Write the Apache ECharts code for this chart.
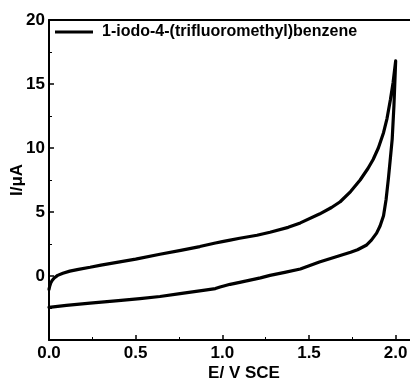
<!DOCTYPE html>
<html>
<head>
<meta charset="utf-8">
<script src="https://cdn.jsdelivr.net/npm/echarts@6/dist/echarts.min.js"></script>
<style>html,body{margin:0;padding:0;background:#fff;}#c{width:410px;height:381px;}</style>
</head>
<body>
<div id="c"></div>
<script>
var seriesName = '1-iodo-4-(trifluoromethyl)benzene';
// forward (anodic) scan, E in V
var forwardE = [0.000, 0.004, 0.010, 0.018, 0.030, 0.050, 0.080, 0.120, 0.170, 0.237, 0.300, 0.400, 0.500, 0.640, 0.760, 0.870, 0.960, 1.000, 1.045, 1.100, 1.200, 1.275, 1.380, 1.450, 1.560, 1.630, 1.680, 1.740, 1.795, 1.840, 1.870, 1.900, 1.930, 1.950, 1.970, 1.985, 2.000];
var forwardI = [-1.05, -0.80, -0.55, -0.35, -0.15, 0.05, 0.22, 0.38, 0.52, 0.68, 0.85, 1.08, 1.32, 1.70, 2.00, 2.30, 2.58, 2.69, 2.80, 2.95, 3.18, 3.42, 3.80, 4.15, 4.84, 5.35, 5.80, 6.60, 7.50, 8.40, 9.10, 10.00, 11.20, 12.30, 13.80, 15.10, 16.80];
// reverse (cathodic) scan
var reverseE = [1.990, 1.980, 1.968, 1.958, 1.945, 1.930, 1.910, 1.890, 1.860, 1.830, 1.780, 1.740, 1.680, 1.620, 1.560, 1.450, 1.360, 1.275, 1.220, 1.160, 1.100, 1.045, 0.987, 0.960, 0.900, 0.756, 0.640, 0.525, 0.400, 0.237, 0.100, 0.000];
var reverseI = [13.30, 10.70, 9.00, 7.60, 6.00, 4.70, 3.90, 3.35, 2.80, 2.40, 2.05, 1.85, 1.60, 1.35, 1.09, 0.55, 0.28, 0.05, -0.15, -0.32, -0.50, -0.65, -0.86, -0.98, -1.10, -1.38, -1.60, -1.77, -1.92, -2.12, -2.30, -2.45];
var xTicks = [0.0, 0.5, 1.0, 1.5, 2.0];
var yTicks = [0, 5, 10, 15, 20];

var data = [];
for (var i = 0; i < forwardE.length; i++) data.push([forwardE[i], forwardI[i]]);
for (var j = 0; j < reverseE.length; j++) data.push([reverseE[j], reverseI[j]]);

var font = 'Liberation Sans, Arial, sans-serif';
var chart = echarts.init(document.getElementById('c'), null, {renderer: 'canvas'});
chart.setOption({
  animation: false,
  backgroundColor: '#fff',
  grid: {left: 49, top: 20, bottom: 41, right: -29, containLabel: false, outerBoundsMode: 'none'},
  legend: {
    left: 50, top: 19,
    icon: 'rect',
    itemWidth: 38, itemHeight: 3,
    data: [seriesName],
    textStyle: {fontFamily: font, fontWeight: 'bold', fontSize: 16, color: '#000', padding: [0, 0, 0, 4]},
    itemStyle: {color: '#000', borderWidth: 0}
  },
  xAxis: [{
    type: 'value', min: 0, max: 2.25, interval: 0.5,
    name: 'E/ V SCE', nameLocation: 'middle', nameGap: 25, nameMoveOverlap: false,
    nameTextStyle: {fontFamily: font, fontWeight: 'bold', fontSize: 17, color: '#000'},
    axisLine: {show: true, onZero: false, lineStyle: {color: '#000', width: 2}},
    axisTick: {show: true, inside: true, length: 5, lineStyle: {color: '#000', width: 1.5}},
    minorTick: {show: true, splitNumber: 2, length: 3, lineStyle: {color: '#000', width: 1}},
    splitLine: {show: false},
    axisLabel: {fontFamily: font, fontWeight: 'bold', fontSize: 17, color: '#000', margin: 5,
      formatter: function (v) { return xTicks.some(function (t) { return Math.abs(t - v) < 1e-9; }) ? v.toFixed(1) : ''; }}
  }, {
    type: 'value', min: 0, max: 2.25, position: 'top',
    axisLine: {show: true, onZero: false, lineStyle: {color: '#000', width: 2}},
    axisTick: {show: false}, axisLabel: {show: false}, splitLine: {show: false}
  }],
  yAxis: [{
    type: 'value', min: -5, max: 20, interval: 5,
    name: 'I/\u03bcA', nameLocation: 'middle', nameGap: 23, nameRotate: 90, nameMoveOverlap: false,
    nameTextStyle: {fontFamily: font, fontWeight: 'bold', fontSize: 17, color: '#000'},
    axisLine: {show: true, onZero: false, lineStyle: {color: '#000', width: 2}},
    axisTick: {show: true, inside: true, length: 5, lineStyle: {color: '#000', width: 1.5}},
    minorTick: {show: true, splitNumber: 2, length: 3, lineStyle: {color: '#000', width: 1}},
    splitLine: {show: false},
    axisLabel: {fontFamily: font, fontWeight: 'bold', fontSize: 17, color: '#000', margin: 4,
      formatter: function (v) { return yTicks.indexOf(v) >= 0 ? String(v) : ''; }}
  }],
  series: [{
    name: seriesName, type: 'line', data: data,
    symbol: 'none', smooth: false,
    lineStyle: {color: '#000', width: 3.2, join: 'round', cap: 'round'},
    itemStyle: {color: '#000'}
  }]
});
</script>
</body>
</html>
